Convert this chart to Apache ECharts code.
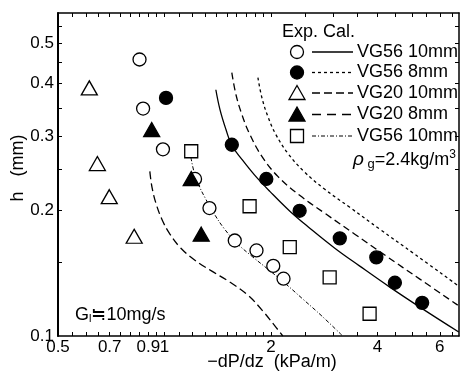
<!DOCTYPE html>
<html>
<head>
<meta charset="utf-8">
<script src="https://cdn.jsdelivr.net/npm/echarts@6/dist/echarts.min.js"></script>
<style>
  html, body { margin: 0; padding: 0; background: #fff; }
  #chart { width: 463px; height: 382px; }
</style>
</head>
<body>
<div id="chart"></div>
<script>
// Tick positions: -dP/dz in kPa/m, h in mm
const xLabelTicks = [0.5, 0.7, 0.9, 1, 2, 4, 6];
const xTicks = [0.55, 0.6, 0.65, 0.7, 0.75, 0.8, 0.85, 0.9, 0.95, 1,
  1.1, 1.2, 1.3, 1.4, 1.5, 1.6, 1.7, 1.8, 1.9, 2, 2.5, 3, 3.5, 4, 4.5, 5, 5.5, 6, 6.5];
const yLabelTicks = [0.1, 0.2, 0.3, 0.4, 0.5];
const yTicks = [0.15, 0.2, 0.25, 0.3, 0.35, 0.4, 0.45, 0.5, 0.55];

// Experimental points: [-dP/dz (kPa/m), h (mm)]
const expVG56_10 = [[0.85, 0.457], [0.87, 0.349], [0.99, 0.279], [1.22, 0.237], [1.34, 0.202],
  [1.58, 0.169], [1.82, 0.160], [2.03, 0.147], [2.17, 0.137]];
const expVG56_8 = [[1.01, 0.37], [1.55, 0.286], [1.94, 0.237], [2.41, 0.199], [3.13, 0.171],
  [3.97, 0.154], [4.48, 0.134], [5.35, 0.120]];
const expVG20_10 = [[0.613, 0.391], [0.646, 0.258], [0.698, 0.215], [0.821, 0.173]];
const expVG20_8 = [[0.92, 0.311], [1.19, 0.2375], [1.27, 0.175]];
const expVG56_10rho = [[1.19, 0.276], [1.74, 0.204], [2.26, 0.163], [2.93, 0.138], [3.80, 0.113]];

// Calculated curves: [-dP/dz (kPa/m), h (mm)]
const calVG56_10 = [[1.397, 0.387], [1.435, 0.347], [1.492, 0.311], [1.550, 0.285], [1.655, 0.264],
  [1.801, 0.2417], [1.985, 0.2214], [2.262, 0.1985], [2.575, 0.1808], [3.03, 0.162],
  [3.565, 0.1468], [4.334, 0.1308], [5.27, 0.1172], [6.79, 0.1022]];
const calVG56_8 = [[1.837, 0.4137], [1.885, 0.3707], [1.960, 0.3341], [2.064, 0.3027], [2.233, 0.2728],
  [2.477, 0.2471], [2.839, 0.2239], [3.34, 0.2028], [4.061, 0.1798], [5.10, 0.1567], [6.79, 0.1315]];
const calVG20_8 = [[1.550, 0.4251], [1.592, 0.377], [1.655, 0.3378], [1.743, 0.3027], [1.885, 0.2683],
  [2.091, 0.2404], [2.41, 0.2166], [2.839, 0.1963], [3.451, 0.175], [4.195, 0.156],
  [5.27, 0.1367], [6.745, 0.1185]];
const calVG20_10 = [[0.909, 0.2471], [0.922, 0.2263], [0.946, 0.2073], [0.983, 0.19], [1.036, 0.175],
  [1.113, 0.162], [1.219, 0.1517], [1.361, 0.1428], [1.53, 0.1345], [1.72, 0.1252],
  [1.897, 0.1147], [2.064, 0.105], [2.16, 0.1]];
const calVG56_10rho = [[1.188, 0.2668], [1.211, 0.2471], [1.251, 0.2288], [1.309, 0.212], [1.379, 0.1963],
  [1.472, 0.1808], [1.602, 0.1665], [1.766, 0.155], [1.960, 0.1444], [2.189, 0.1337],
  [2.461, 0.1225], [2.785, 0.1116], [3.19, 0.1]];

const FONT = 'Liberation Sans, Arial, Helvetica, sans-serif';
const INK = '#000';
const X_MIN = 0.5, X_MAX = 6.8, Y_MIN = 0.1, Y_MAX = 0.59;

const fmt = v => String(Math.round(v * 100) / 100);

function logAxis(min, max, position, ticks, labels, lineWidth, margin) {
  return {
    type: 'log', logBase: 10, min: min, max: max, position: position,
    axisLine: { show: true, lineStyle: { color: INK, width: lineWidth } },
    axisTick: { show: true, inside: true, length: 4, customValues: ticks,
      lineStyle: { color: INK, width: 1 } },
    axisLabel: labels ? { show: true, customValues: labels, formatter: fmt,
      color: INK, fontSize: 17, fontFamily: FONT, margin: margin, hideOverlap: false,
      showMinLabel: true, showMaxLabel: true } : { show: false },
    splitLine: { show: false }
  };
}

function expSeries(data, symbol, size, filled) {
  return {
    type: 'scatter', data: data, symbol: symbol, symbolSize: size,
    xAxisIndex: 0, yAxisIndex: 0, z: 5,
    itemStyle: { color: filled ? INK : '#fff', borderColor: INK, borderWidth: 1.3, opacity: 1 },
    emphasis: { disabled: true }
  };
}
function calSeries(data, dash, width) {
  return {
    type: 'line', data: data, showSymbol: false, smooth: 0.4,
    xAxisIndex: 0, yAxisIndex: 0, z: 3, clip: true,
    lineStyle: { color: INK, width: width, type: dash },
    emphasis: { disabled: true }
  };
}

// Legend: marker column (Exp.), line column (Cal.), label
const legendRows = [
  { y: 52, label: 'VG56 10mm', marker: 'circle', filled: false, dash: 'solid', w: 1.3 },
  { y: 72.5, label: 'VG56 8mm', marker: 'circle', filled: true, dash: [3, 3], w: 1.3 },
  { y: 93, label: 'VG20 10mm', marker: 'triangle', filled: false, dash: [8, 4], w: 1.3 },
  { y: 114.5, label: 'VG20 8mm', marker: 'triangle', filled: true, dash: [9, 6], w: 1.3 },
  { y: 136, label: 'VG56 10mm', marker: 'rect', filled: false, dash: [4, 2, 1, 2], w: 1 }
];
const MX = 297;
const legendGraphics = [];
legendRows.forEach(r => {
  const fill = r.filled ? INK : '#fff';
  const st = { fill: fill, stroke: INK, lineWidth: 1.3 };
  if (r.marker === 'circle') {
    legendGraphics.push({ type: 'circle', shape: { cx: MX, cy: r.y, r: 6.5 }, style: st });
  } else if (r.marker === 'triangle') {
    legendGraphics.push({ type: 'polygon',
      shape: { points: [[MX, r.y - 7.5], [MX - 8, r.y + 6.5], [MX + 8, r.y + 6.5]] }, style: st });
  } else {
    legendGraphics.push({ type: 'rect', shape: { x: MX - 6.5, y: r.y - 6.5, width: 13, height: 13 }, style: st });
  }
  legendGraphics.push({ type: 'line', shape: { x1: 312, y1: r.y, x2: 353, y2: r.y },
    style: { stroke: INK, lineWidth: r.w, lineDash: r.dash === 'solid' ? null : r.dash } });
  legendGraphics.push({ type: 'text', x: 357, y: r.y,
    style: { text: r.label, fill: INK, font: '18px ' + FONT, verticalAlign: 'middle' } });
});

const chart = echarts.init(document.getElementById('chart'), null, { renderer: 'canvas' });
chart.setOption({
  animation: false,
  backgroundColor: '#fff',
  grid: { left: 58, right: 4, top: 13, bottom: 46 },
  xAxis: [
    logAxis(X_MIN, X_MAX, 'bottom', xTicks, xLabelTicks, 1.5, 3),
    logAxis(X_MIN, X_MAX, 'top', xTicks, null, 1.5, 3)
  ],
  yAxis: [
    logAxis(Y_MIN, Y_MAX, 'left', yTicks, yLabelTicks, 2, 4),
    logAxis(Y_MIN, Y_MAX, 'right', yTicks, null, 1.5, 4)
  ],
  series: [
    calSeries(calVG56_10, 'solid', 1.3),
    calSeries(calVG56_8, [3, 3], 1.3),
    calSeries(calVG20_10, [8, 4], 1.3),
    calSeries(calVG20_8, [7, 4], 1.3),
    calSeries(calVG56_10rho, [4, 2, 1, 2], 1),
    expSeries(expVG56_10, 'circle', 13, false),
    expSeries(expVG56_8, 'circle', 13, true),
    expSeries(expVG20_10, 'triangle', [16, 14], false),
    expSeries(expVG20_8, 'triangle', [16, 14], true),
    expSeries(expVG56_10rho, 'rect', [13, 13], false)
  ],
  graphic: [
    { type: 'text', x: 282, y: 32,
      style: { text: 'Exp. Cal.', fill: INK, font: '18px ' + FONT, verticalAlign: 'middle' } },
    ...legendGraphics,
    { type: 'text', x: 353, y: 160,
      style: {
        text: '{i|ρ}{s| g}{n|=2.4kg/m}{p|3}',
        verticalAlign: 'middle',
        rich: {
          i: { fontSize: 19, fontStyle: 'italic', fontFamily: FONT, fill: INK },
          s: { fontSize: 13, fontFamily: FONT, fill: INK, padding: [8, 0, 0, 0] },
          n: { fontSize: 18, fontFamily: FONT, fill: INK },
          p: { fontSize: 12, fontFamily: FONT, fill: INK, padding: [0, 0, 10, 0] }
        }
      } },
    { type: 'text', x: 75, y: 315,
      style: {
        text: '{g|G}{s|l}{n|≒10mg/s}',
        verticalAlign: 'middle',
        rich: {
          g: { fontSize: 18, fontFamily: FONT, fill: INK },
          s: { fontSize: 11, fontFamily: FONT, fill: INK, padding: [8, 0, 0, 0] },
          n: { fontSize: 18, fontFamily: FONT, fill: INK }
        }
      } },
    { type: 'text', x: 272, y: 362,
      style: { text: '−dP/dz  (kPa/m)', fill: INK, font: '18px ' + FONT,
        align: 'center', verticalAlign: 'middle' } },
    { type: 'text', x: 18, y: 168, rotation: Math.PI / 2,
      style: { text: 'h   (mm)', fill: INK, font: '18px ' + FONT,
        align: 'center', verticalAlign: 'middle' } }
  ]
});
</script>
</body>
</html>
